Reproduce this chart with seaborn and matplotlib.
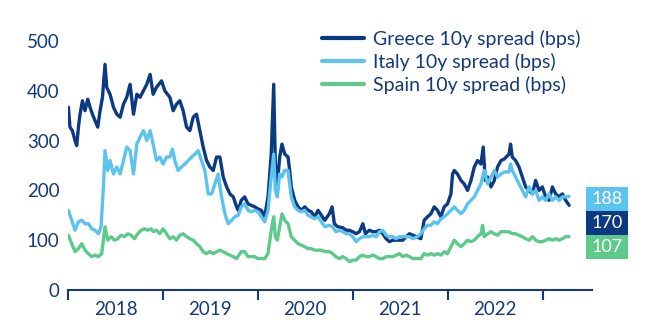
import matplotlib
matplotlib.use("Agg")
import matplotlib.pyplot as plt
from matplotlib.patches import Rectangle
from matplotlib.lines import Line2D
import numpy as np
import pandas as pd
import seaborn as sns

# ---- data (time in decimal years, spreads in bps) ----
greece_t = [2018.004, 2018.021, 2018.046, 2018.074, 2018.092, 2018.110, 2018.127, 2018.152, 2018.179, 2018.208,
            2018.232, 2018.257, 2018.285, 2018.313, 2018.338, 2018.363, 2018.390, 2018.408, 2018.443, 2018.479,
            2018.514, 2018.549, 2018.584, 2018.619, 2018.654, 2018.690, 2018.725, 2018.759, 2018.795, 2018.830,
            2018.865, 2018.897, 2018.932, 2018.985, 2019.020, 2019.073, 2019.108, 2019.143, 2019.178, 2019.213,
            2019.249, 2019.284, 2019.319, 2019.354, 2019.389, 2019.424, 2019.460, 2019.495, 2019.530, 2019.565,
            2019.600, 2019.635, 2019.671, 2019.706, 2019.741, 2019.776, 2019.793, 2019.825, 2019.861, 2019.896,
            2019.930, 2019.966, 2020.001, 2020.036, 2020.072, 2020.107, 2020.141, 2020.167, 2020.184, 2020.205,
            2020.230, 2020.254, 2020.283, 2020.318, 2020.335, 2020.352, 2020.388, 2020.423, 2020.458, 2020.494,
            2020.529, 2020.563, 2020.599, 2020.634, 2020.669, 2020.705, 2020.753, 2020.782, 2020.806, 2020.842,
            2020.895, 2020.929, 2020.964, 2021.000, 2021.035, 2021.070, 2021.106, 2021.133, 2021.175, 2021.211,
            2021.246, 2021.281, 2021.316, 2021.351, 2021.386, 2021.422, 2021.457, 2021.492, 2021.527, 2021.562,
            2021.597, 2021.633, 2021.668, 2021.717, 2021.752, 2021.787, 2021.823, 2021.858, 2021.892, 2021.928,
            2021.963, 2021.998, 2022.034, 2022.051, 2022.069, 2022.103, 2022.139, 2022.174, 2022.209, 2022.245,
            2022.280, 2022.314, 2022.350, 2022.374, 2022.396, 2022.420, 2022.456, 2022.491, 2022.525, 2022.561,
            2022.596, 2022.646, 2022.662, 2022.680, 2022.715, 2022.751, 2022.786, 2022.821, 2022.857, 2022.892,
            2022.926, 2022.962, 2022.997, 2023.032, 2023.068, 2023.103, 2023.137, 2023.173, 2023.208, 2023.243,
            2023.279]
greece_v = [367, 327, 320, 300, 290, 327, 353, 380, 360, 383,
            367, 353, 340, 327, 360, 387, 453, 407, 393, 367,
            353, 347, 373, 387, 413, 353, 393, 387, 400, 413,
            433, 393, 407, 420, 400, 387, 360, 373, 380, 360,
            327, 320, 347, 353, 320, 287, 260, 247, 240, 267,
            267, 227, 207, 193, 187, 167, 160, 180, 187, 173,
            170, 167, 163, 160, 147, 187, 273, 413, 253, 213,
            267, 293, 273, 267, 240, 207, 180, 167, 160, 167,
            160, 157, 147, 160, 150, 140, 153, 167, 133, 127,
            125, 120, 120, 117, 113, 117, 133, 113, 120, 117,
            117, 120, 113, 103, 97, 100, 100, 100, 100, 107,
            113, 110, 107, 103, 140, 147, 153, 167, 160, 147,
            167, 173, 193, 233, 240, 233, 220, 213, 200, 220,
            247, 260, 253, 287, 220, 227, 207, 220, 247, 260,
            263, 273, 293, 267, 260, 247, 227, 207, 200, 193,
            220, 200, 207, 187, 180, 207, 193, 187, 193, 180,
            170]

italy_t = [2018.004, 2018.039, 2018.074, 2018.110, 2018.145, 2018.179, 2018.215, 2018.250, 2018.285, 2018.321,
           2018.348, 2018.373, 2018.390, 2018.419, 2018.443, 2018.479, 2018.514, 2018.549, 2018.584, 2018.619,
           2018.654, 2018.690, 2018.725, 2018.759, 2018.795, 2018.830, 2018.865, 2018.897, 2018.932, 2018.967,
           2019.002, 2019.038, 2019.073, 2019.100, 2019.125, 2019.160, 2019.196, 2019.231, 2019.266, 2019.302,
           2019.337, 2019.371, 2019.407, 2019.442, 2019.477, 2019.513, 2019.547, 2019.582, 2019.618, 2019.653,
           2019.688, 2019.724, 2019.758, 2019.793, 2019.825, 2019.861, 2019.896, 2019.930, 2019.966, 2020.001,
           2020.036, 2020.072, 2020.107, 2020.141, 2020.167, 2020.184, 2020.205, 2020.230, 2020.254, 2020.283,
           2020.318, 2020.335, 2020.352, 2020.388, 2020.423, 2020.458, 2020.494, 2020.529, 2020.563, 2020.599,
           2020.634, 2020.669, 2020.705, 2020.753, 2020.787, 2020.822, 2020.859, 2020.895, 2020.929, 2020.964,
           2021.000, 2021.035, 2021.070, 2021.106, 2021.141, 2021.175, 2021.211, 2021.246, 2021.281, 2021.316,
           2021.351, 2021.386, 2021.422, 2021.457, 2021.492, 2021.527, 2021.562, 2021.597, 2021.633, 2021.682,
           2021.717, 2021.752, 2021.787, 2021.823, 2021.858, 2021.892, 2021.928, 2021.963, 2021.998, 2022.034,
           2022.069, 2022.103, 2022.139, 2022.174, 2022.209, 2022.245, 2022.280, 2022.314, 2022.350, 2022.384,
           2022.420, 2022.456, 2022.491, 2022.525, 2022.561, 2022.596, 2022.646, 2022.662, 2022.680, 2022.715,
           2022.751, 2022.786, 2022.821, 2022.857, 2022.892, 2022.926, 2022.962, 2022.997, 2023.032, 2023.068,
           2023.103, 2023.137, 2023.173, 2023.208, 2023.243, 2023.279]
italy_v = [160, 140, 120, 137, 140, 133, 133, 123, 120, 113,
           127, 207, 280, 240, 260, 233, 247, 233, 260, 287,
           280, 233, 293, 307, 320, 300, 320, 293, 260, 267,
           253, 267, 267, 283, 260, 240, 247, 253, 260, 267,
           273, 280, 260, 240, 193, 193, 213, 233, 187, 153,
           133, 140, 147, 150, 167, 173, 160, 157, 160, 157,
           147, 137, 160, 227, 273, 200, 187, 233, 227, 240,
           240, 213, 187, 167, 160, 157, 160, 150, 147, 143,
           147, 137, 127, 130, 127, 117, 120, 117, 113, 113,
           107, 97, 103, 107, 107, 107, 110, 107, 117, 120,
           110, 107, 107, 103, 107, 107, 107, 107, 103, 107,
           113, 123, 130, 130, 137, 133, 143, 147, 153, 160,
           167, 160, 153, 160, 173, 180, 187, 200, 213, 240,
           213, 227, 240, 227, 233, 237, 237, 253, 240, 227,
           213, 200, 187, 207, 193, 200, 180, 187, 180, 193,
           180, 187, 180, 187, 187, 188]

spain_t = [2018.004, 2018.039, 2018.074, 2018.110, 2018.145, 2018.179, 2018.215, 2018.250, 2018.285, 2018.321,
           2018.355, 2018.390, 2018.419, 2018.454, 2018.489, 2018.524, 2018.559, 2018.595, 2018.630, 2018.665,
           2018.700, 2018.735, 2018.770, 2018.806, 2018.841, 2018.876, 2018.897, 2018.932, 2018.967, 2019.002,
           2019.038, 2019.073, 2019.108, 2019.143, 2019.178, 2019.213, 2019.249, 2019.284, 2019.319, 2019.354,
           2019.389, 2019.424, 2019.460, 2019.495, 2019.530, 2019.565, 2019.600, 2019.635, 2019.671, 2019.706,
           2019.741, 2019.776, 2019.825, 2019.861, 2019.896, 2019.930, 2019.966, 2020.001, 2020.036, 2020.072,
           2020.107, 2020.141, 2020.167, 2020.184, 2020.205, 2020.230, 2020.254, 2020.283, 2020.318, 2020.335,
           2020.352, 2020.388, 2020.423, 2020.458, 2020.494, 2020.529, 2020.563, 2020.599, 2020.634, 2020.669,
           2020.705, 2020.753, 2020.787, 2020.822, 2020.859, 2020.895, 2020.929, 2020.964, 2021.000, 2021.035,
           2021.070, 2021.106, 2021.141, 2021.175, 2021.211, 2021.246, 2021.281, 2021.316, 2021.351, 2021.386,
           2021.422, 2021.457, 2021.492, 2021.527, 2021.562, 2021.597, 2021.633, 2021.682, 2021.717, 2021.752,
           2021.787, 2021.823, 2021.858, 2021.892, 2021.928, 2021.963, 2021.998, 2022.034, 2022.069, 2022.103,
           2022.139, 2022.174, 2022.209, 2022.245, 2022.280, 2022.314, 2022.350, 2022.367, 2022.384, 2022.420,
           2022.456, 2022.491, 2022.525, 2022.561, 2022.596, 2022.646, 2022.680, 2022.715, 2022.751, 2022.786,
           2022.821, 2022.857, 2022.892, 2022.926, 2022.962, 2022.997, 2023.032, 2023.068, 2023.103, 2023.137,
           2023.173, 2023.208, 2023.243, 2023.279]
spain_v = [110, 93, 77, 83, 93, 80, 73, 67, 70, 67,
           73, 127, 100, 107, 100, 103, 110, 107, 113, 110,
           103, 113, 120, 123, 120, 123, 117, 120, 113, 123,
           113, 103, 107, 100, 110, 113, 107, 103, 100, 93,
           87, 77, 73, 77, 73, 77, 80, 77, 73, 70,
           67, 63, 77, 77, 67, 67, 67, 63, 63, 63,
           73, 120, 147, 107, 100, 127, 153, 140, 133, 120,
           107, 100, 93, 90, 87, 83, 83, 80, 80, 80,
           77, 77, 73, 67, 63, 67, 63, 57, 60, 60,
           67, 70, 67, 67, 70, 67, 63, 63, 67, 67,
           67, 70, 73, 67, 70, 67, 63, 63, 63, 73,
           70, 73, 70, 73, 70, 77, 73, 87, 100, 93,
           87, 93, 100, 97, 100, 107, 113, 130, 107, 113,
           117, 113, 110, 117, 117, 117, 113, 113, 110, 107,
           103, 100, 107, 100, 97, 97, 100, 103, 100, 103,
           100, 103, 107, 107]

series_names = ["Greece 10y spread (bps)", "Italy 10y spread (bps)", "Spain 10y spread (bps)"]
series_colors = ["#0b3a82", "#5bc3ee", "#5dca8c"]
last_values = ["188", "170", "107"]          # boxes top -> bottom
last_colors = ["#5bc3ee", "#0b3a82", "#5dca8c"]
year_ticks = [2018, 2019, 2020, 2021, 2022, 2023]
year_labels = ["2018", "2019", "2020", "2021", "2022"]
y_ticks = [0, 100, 200, 300, 400, 500]

TEXT = "#123a7c"

sns.set_theme(style="white")
plt.rcParams["font.family"] = ["Lato", "DejaVu Sans"]

df = pd.concat([
    pd.DataFrame({"t": greece_t, "v": greece_v, "series": series_names[0]}),
    pd.DataFrame({"t": italy_t, "v": italy_v, "series": series_names[1]}),
    pd.DataFrame({"t": spain_t, "v": spain_v, "series": series_names[2]}),
], ignore_index=True)

W, H = 650, 333
fig = plt.figure(figsize=(W / 100, H / 100), dpi=100)
ax = fig.add_axes([68 / W, 1 - 290 / H, (592 - 68) / W, (290 - 41) / H])

sns.lineplot(data=df, x="t", y="v", hue="series", hue_order=series_names,
             palette=dict(zip(series_names, series_colors)), linewidth=2.4,
             estimator=None, legend=False, ax=ax)

ax.set_xlim(2018, 2023.52)
ax.set_ylim(0, 500)
ax.set_xlabel("")
ax.set_ylabel("")

for s in ["top", "right", "left"]:
    ax.spines[s].set_visible(False)
ax.spines["bottom"].set_color(TEXT)
ax.spines["bottom"].set_linewidth(1.5)

ax.set_xticks(year_ticks)
ax.set_xticklabels([])
ax.set_xticks([y + 0.5 for y in year_ticks[:-1]], minor=True)
ax.set_xticklabels(year_labels, minor=True)
ax.tick_params(axis="x", which="major", direction="out", length=7, width=1.5, color=TEXT, bottom=True)
ax.tick_params(axis="x", which="minor", length=0, pad=8, labelsize=13.5, labelcolor=TEXT, bottom=True)
ax.set_yticks(y_ticks)
ax.set_yticklabels([str(v) for v in y_ticks])
ax.tick_params(axis="y", length=0, pad=6, labelsize=13.5, labelcolor=TEXT, left=True)
ax.grid(False)

handles = [Line2D([], [], color=c, lw=3) for c in series_colors]
leg = fig.legend(handles, series_names, loc="upper left",
                 bbox_to_anchor=(322 / W, 1 - 30 / H), frameon=False,
                 borderpad=0, borderaxespad=0, handlelength=2.15, handletextpad=0.45,
                 labelspacing=0.26, fontsize=14)
for t in leg.get_texts():
    t.set_color(TEXT)

# last-value boxes
bounds = [187, 211, 235, 259]
for i, (lab, col) in enumerate(zip(last_values, last_colors)):
    y0 = 1 - bounds[i + 1] / H
    h = (bounds[i + 1] - bounds[i]) / H
    fig.patches.append(Rectangle((586 / W, y0), 42 / W, h, transform=fig.transFigure,
                                 facecolor=col, edgecolor="none"))
    fig.text(607 / W, y0 + h / 2, lab, color="white", fontsize=13,
             ha="center", va="center")

fig.savefig("out.png", dpi=100)
